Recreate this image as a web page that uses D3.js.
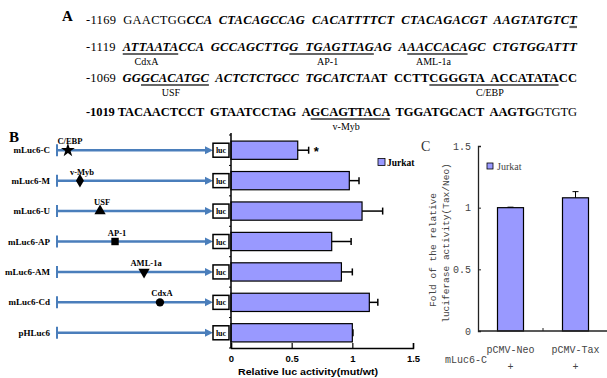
<!DOCTYPE html>
<html>
<head>
<meta charset="utf-8">
<script src="https://cdn.jsdelivr.net/npm/d3@7"></script>
<style>
  body { margin: 0; background: #fff; }
  svg { display: block; }
  .seq { font-family: "Liberation Serif", "Times New Roman", serif; font-size: 12.5px; white-space: pre; }
</style>
</head>
<body>
<div id="chart"></div>
<script>
// ---- panel A: promoter sequence ----
const seqLine1 = [['-1169  GAACTGG', 'n'], ['CCA  CTACAGCCAG  CACATTTTCT  CTACAGACGT  AAGTATGTC', 'bi'], ['T', 'bi', '']];
const seqLine2 = [['-1119  ', 'n'], ['ATTAATA', 'bi', 'CdxA'], ['CCA  GCCAGCTTG', 'bi'], ['G  TGAGTTAG', 'bi', 'AP-1'], ['AG  A', 'bi'], ['AACCACA', 'bi', 'AML-1a'], ['GC  CTGTGGATTT', 'bi']];
const seqLine3 = [['-1069  ', 'n'], ['GG', 'bi'], ['GCACATGC', 'bi', 'USF'], ['  ACTCTCTGCC  TGCATCTA', 'bi'], ['AT  CCTT', 'b'], ['CGGGTA  ACCATATA', 'b', 'C/EBP'], ['CC', 'b']];
const seqLine4 = [['-1019 TACAACTCCT  GTAATCCTAG  A', 'b'], ['GCAGTTACA', 'b', 'v-Myb'], ['  TGGATGCACT  AAGTG', 'b'], ['GTGTG', 'n']];
const seqLines = [seqLine1, seqLine2, seqLine3, seqLine4];

// ---- panel B: deletion constructs ----
const constructs = ['mLuc6-C', 'mLuc6-M', 'mLuc6-U', 'mLuc6-AP', 'mLuc6-AM', 'mLuc6-Cd', 'pHLuc6'];
const activity = [0.55, 0.975, 1.08, 0.83, 0.91, 1.14, 1.0];
const activityErr = [0.09, 0.08, 0.17, 0.16, 0.09, 0.07, 0.005];
const siteNames = ['C/EBP', 'v-Myb', 'USF', 'AP-1', 'AML-1a', 'CdxA'];
const sitePos = [0.07, 0.147, 0.276, 0.372, 0.558, 0.66];
const siteShape = ['star', 'diamond', 'triangle', 'square', 'triangleDown', 'circle'];
const xTicksB = [0, 0.5, 1, 1.5];

// ---- panel C: Tax co-transfection ----
const groupsC = ['pCMV-Neo', 'pCMV-Tax'];
const foldC = [1.0, 1.08];
const foldErr = [0.004, 0.05];
const yTicksC = [0, 0.5, 1, 1.5];

const barFill = '#9999ff';
const lineBlue = '#4a7ebb';

const width = 607, height = 378;
const svg = d3.select('#chart').append('svg')
  .attr('width', width)
  .attr('height', height);

// ================= A =================
svg.append('text')
  .attr('x', 62).attr('y', 21)
  .attr('font-family', 'Liberation Serif, serif')
  .attr('font-weight', 'bold').attr('font-size', 15)
  .text('A');

const lineY = [24, 51, 82, 116];
const labelDy = 14;
const styleOf = {
  n: { w: 'normal', s: 'normal' },
  bi: { w: 'bold', s: 'italic' },
  b: { w: 'bold', s: 'normal' }
};

seqLines.forEach((segs, li) => {
  const t = svg.append('text')
    .attr('class', 'seq')
    .attr('x', 86)
    .attr('y', lineY[li]);
  segs.forEach(s => {
    t.append('tspan')
      .attr('font-weight', styleOf[s[1]].w)
      .attr('font-style', styleOf[s[1]].s)
      .text(s[0]);
  });
  t.attr('textLength', 491).attr('lengthAdjust', 'spacing');

  // underlines for binding sites
  const node = t.node();
  let idx = 0;
  segs.forEach(s => {
    const len = s[0].length;
    if (s[2] !== undefined) {
      const x0 = node.getStartPositionOfChar(idx).x;
      const x1 = node.getEndPositionOfChar(idx + len - 1).x;
      svg.append('line')
        .attr('x1', x0).attr('x2', x1)
        .attr('y1', lineY[li] + 3).attr('y2', lineY[li] + 3)
        .attr('stroke', '#666').attr('stroke-width', 2.2);
      if (s[2]) {
        svg.append('text')
          .attr('x', (x0 + x1) / 2 - 4)
          .attr('y', lineY[li] + labelDy)
          .attr('text-anchor', 'middle')
          .attr('font-family', 'Liberation Serif, serif')
          .attr('font-size', 10)
          .text(s[2]);
      }
    }
    idx += len;
  });
});

// ================= B =================
svg.append('text')
  .attr('x', 9).attr('y', 142)
  .attr('font-family', 'Liberation Serif, serif')
  .attr('font-weight', 'bold').attr('font-size', 15)
  .text('B');

const xB = d3.scaleLinear().domain([0, 1.5]).range([231, 413]);
const yB = d3.scaleBand().domain(constructs).range([135, 348])
  .paddingInner(0.4).paddingOuter(0.2);
const lineX = d3.scaleLinear().domain([0, 1]).range([57, 213]);

const rows = svg.append('g').selectAll('g.row')
  .data(constructs)
  .join('g')
  .attr('class', 'row')
  .attr('transform', d => `translate(0,${yB(d) + yB.bandwidth() / 2})`);

rows.append('text')
  .attr('x', 50).attr('y', 3)
  .attr('text-anchor', 'end')
  .attr('font-family', 'Liberation Serif, serif')
  .attr('font-weight', 'bold').attr('font-size', 9)
  .text(d => d);

rows.append('line')
  .attr('x1', lineX(0)).attr('x2', lineX(0))
  .attr('y1', -6).attr('y2', 6)
  .attr('stroke', lineBlue).attr('stroke-width', 2);

rows.append('line')
  .attr('x1', lineX(0)).attr('x2', lineX(1) - 6)
  .attr('y1', 0).attr('y2', 0)
  .attr('stroke', lineBlue).attr('stroke-width', 2.5);

rows.append('path')
  .attr('d', `M${lineX(1) - 8},-4L${lineX(1)},0L${lineX(1) - 8},4Z`)
  .attr('fill', lineBlue);

rows.append('rect')
  .attr('x', lineX(1)).attr('y', -7)
  .attr('width', 16).attr('height', 14)
  .attr('fill', '#fff').attr('stroke', '#000').attr('stroke-width', 1.5);

rows.append('text')
  .attr('x', lineX(1) + 8).attr('y', 3)
  .attr('text-anchor', 'middle')
  .attr('font-family', 'Liberation Serif, serif')
  .attr('font-weight', 'bold').attr('font-size', 8)
  .text('luc');

// binding-site markers
const symbolOf = {
  star: d3.symbolStar, diamond: d3.symbolDiamond, triangle: d3.symbolTriangle,
  square: d3.symbolSquare, triangleDown: d3.symbolTriangle, circle: d3.symbolCircle
};
siteNames.forEach((name, i) => {
  const g = svg.append('g')
    .attr('transform', `translate(${lineX(sitePos[i])},${yB(constructs[i]) + yB.bandwidth() / 2})`);
  g.append('path')
    .attr('d', d3.symbol().type(symbolOf[siteShape[i]]).size(siteShape[i] === 'star' ? 60 : 55)())
    .attr('transform', siteShape[i] === 'triangleDown' ? 'rotate(180)' : null)
    .attr('fill', '#000');
  g.append('text')
    .attr('x', 2).attr('y', -6)
    .attr('text-anchor', 'middle')
    .attr('font-family', 'Liberation Serif, serif')
    .attr('font-weight', 'bold').attr('font-size', 8.5)
    .text(name);
});

// bars
const gB = svg.append('g');
gB.selectAll('rect.bar')
  .data(constructs)
  .join('rect')
  .attr('class', 'bar')
  .attr('x', xB(0))
  .attr('y', d => yB(d))
  .attr('width', (d, i) => xB(activity[i]) - xB(0))
  .attr('height', yB.bandwidth())
  .attr('fill', barFill)
  .attr('stroke', '#000').attr('stroke-width', 1.2);

gB.selectAll('line.err')
  .data(constructs)
  .join('line')
  .attr('class', 'err')
  .attr('x1', (d, i) => xB(activity[i]))
  .attr('x2', (d, i) => xB(activity[i] + activityErr[i]))
  .attr('y1', d => yB(d) + yB.bandwidth() / 2)
  .attr('y2', d => yB(d) + yB.bandwidth() / 2)
  .attr('stroke', '#000').attr('stroke-width', 1.5);

gB.selectAll('line.cap')
  .data(constructs)
  .join('line')
  .attr('class', 'cap')
  .attr('x1', (d, i) => xB(activity[i] + activityErr[i]))
  .attr('x2', (d, i) => xB(activity[i] + activityErr[i]))
  .attr('y1', d => yB(d) + yB.bandwidth() / 2 - 3.5)
  .attr('y2', d => yB(d) + yB.bandwidth() / 2 + 3.5)
  .attr('stroke', '#000').attr('stroke-width', 1.5);

gB.append('text')
  .attr('x', xB(activity[0] + activityErr[0]) + 5)
  .attr('y', yB(constructs[0]) + yB.bandwidth() / 2 + 6)
  .attr('font-family', 'Liberation Sans, sans-serif')
  .attr('font-weight', 'bold').attr('font-size', 13)
  .text('*');

// axes B
gB.append('line')
  .attr('x1', xB(0)).attr('x2', xB(0))
  .attr('y1', 133).attr('y2', 348)
  .attr('stroke', '#000').attr('stroke-width', 1.5);
gB.selectAll('line.ytick')
  .data(d3.range(constructs.length + 1))
  .join('line')
  .attr('class', 'ytick')
  .attr('x1', xB(0) - 2).attr('x2', xB(0))
  .attr('y1', i => 135 + i * yB.step())
  .attr('y2', i => 135 + i * yB.step())
  .attr('stroke', '#000');

const axB = gB.append('g')
  .attr('transform', 'translate(0,348)')
  .call(d3.axisBottom(xB).tickValues(xTicksB).tickFormat(d3.format('')).tickSize(-5).tickPadding(7));
axB.select('.domain').attr('stroke-width', 1.5);
axB.selectAll('line').attr('stroke-width', 1.2);
axB.selectAll('text')
  .attr('font-family', 'Liberation Sans, sans-serif')
  .attr('font-weight', 'bold').attr('font-size', 9.5)
  .attr('fill', '#000');

gB.append('text')
  .attr('x', 238).attr('y', 375)
  .attr('font-family', 'Liberation Sans, sans-serif')
  .attr('font-weight', 'bold').attr('font-size', 9.5)
  .attr('textLength', 140).attr('lengthAdjust', 'spacingAndGlyphs')
  .text('Relative luc activity(mut/wt)');

// legend B
gB.append('rect')
  .attr('x', 378).attr('y', 158.5).attr('width', 7).attr('height', 7)
  .attr('fill', barFill).attr('stroke', '#000').attr('stroke-width', 0.8);
gB.append('text')
  .attr('x', 387).attr('y', 165.5)
  .attr('font-family', 'Liberation Serif, serif')
  .attr('font-weight', 'bold').attr('font-size', 9.5)
  .text('Jurkat');

// ================= C =================
const mono = 'Liberation Mono, monospace';
const grey = '#444';
svg.append('text')
  .attr('x', 421).attr('y', 151)
  .attr('font-family', 'Liberation Serif, serif')
  .attr('font-size', 14).attr('fill', '#333')
  .text('C');

const xC = d3.scaleBand().domain(groupsC).range([478, 608]).paddingInner(0.6).paddingOuter(0.3);
const yC = d3.scaleLinear().domain([0, 1.5]).range([331, 146]);
const gC = svg.append('g');

gC.selectAll('rect.bar')
  .data(groupsC)
  .join('rect')
  .attr('class', 'bar')
  .attr('x', d => xC(d))
  .attr('y', (d, i) => yC(foldC[i]))
  .attr('width', xC.bandwidth())
  .attr('height', (d, i) => yC(0) - yC(foldC[i]))
  .attr('fill', barFill)
  .attr('stroke', '#000').attr('stroke-width', 1.2);

gC.selectAll('path.err')
  .data(groupsC)
  .join('path')
  .attr('class', 'err')
  .attr('d', (d, i) => {
    const cx = xC(d) + xC.bandwidth() / 2;
    const y0 = yC(foldC[i]), y1 = yC(foldC[i] + foldErr[i]);
    return `M${cx},${y0}V${y1}M${cx - 3},${y1}H${cx + 3}`;
  })
  .attr('stroke', '#000').attr('stroke-width', 1);

const axC = gC.append('g')
  .attr('transform', 'translate(478,0)')
  .call(d3.axisLeft(yC).tickValues(yTicksC).tickFormat(d3.format('')).tickSize(-3).tickPadding(7));
axC.select('.domain').attr('stroke', '#222').attr('stroke-width', 1.3);
axC.selectAll('line').attr('stroke', '#222');
axC.selectAll('text')
  .attr('font-family', mono).attr('font-size', 10).attr('fill', grey);

gC.append('line')
  .attr('x1', 478).attr('x2', 607)
  .attr('y1', yC(0)).attr('y2', yC(0))
  .attr('stroke', '#222').attr('stroke-width', 1.3);
gC.selectAll('line.xtick')
  .data(groupsC)
  .join('line')
  .attr('class', 'xtick')
  .attr('x1', d => xC(d) + xC.bandwidth() / 2 + xC.step() / 2)
  .attr('x2', d => xC(d) + xC.bandwidth() / 2 + xC.step() / 2)
  .attr('y1', yC(0)).attr('y2', yC(0) - 3)
  .attr('stroke', '#222');

gC.selectAll('text.cat')
  .data(groupsC)
  .join('text')
  .attr('class', 'cat')
  .attr('x', d => xC(d) + xC.bandwidth() / 2)
  .attr('y', 353)
  .attr('text-anchor', 'middle')
  .attr('font-family', mono).attr('font-size', 10).attr('fill', grey)
  .text(d => d);
gC.selectAll('text.plus')
  .data(groupsC)
  .join('text')
  .attr('class', 'plus')
  .attr('x', d => xC(d) + xC.bandwidth() / 2)
  .attr('y', 370)
  .attr('text-anchor', 'middle')
  .attr('font-family', mono).attr('font-size', 10).attr('fill', grey)
  .text('+');
gC.append('text')
  .attr('x', 445).attr('y', 363)
  .attr('font-family', mono).attr('font-size', 10).attr('fill', grey)
  .text('mLuc6-C');

// y title C (two lines)
[['Fold of the relative', 436, 250], ['luciferase activity(Tax/Neo)', 449, 243]].forEach(l => {
  gC.append('text')
    .attr('transform', `translate(${l[1]},${l[2]}) rotate(-90)`)
    .attr('text-anchor', 'middle')
    .attr('font-family', mono).attr('font-size', 9.5).attr('fill', grey)
    .text(l[0]);
});

// legend C
gC.append('rect')
  .attr('x', 487).attr('y', 163).attr('width', 6).attr('height', 6)
  .attr('fill', barFill).attr('stroke', '#000').attr('stroke-width', 0.8);
gC.append('text')
  .attr('x', 497).attr('y', 170)
  .attr('font-family', 'Liberation Serif, serif')
  .attr('font-size', 10).attr('fill', grey)
  .text('Jurkat');
</script>
</body>
</html>
